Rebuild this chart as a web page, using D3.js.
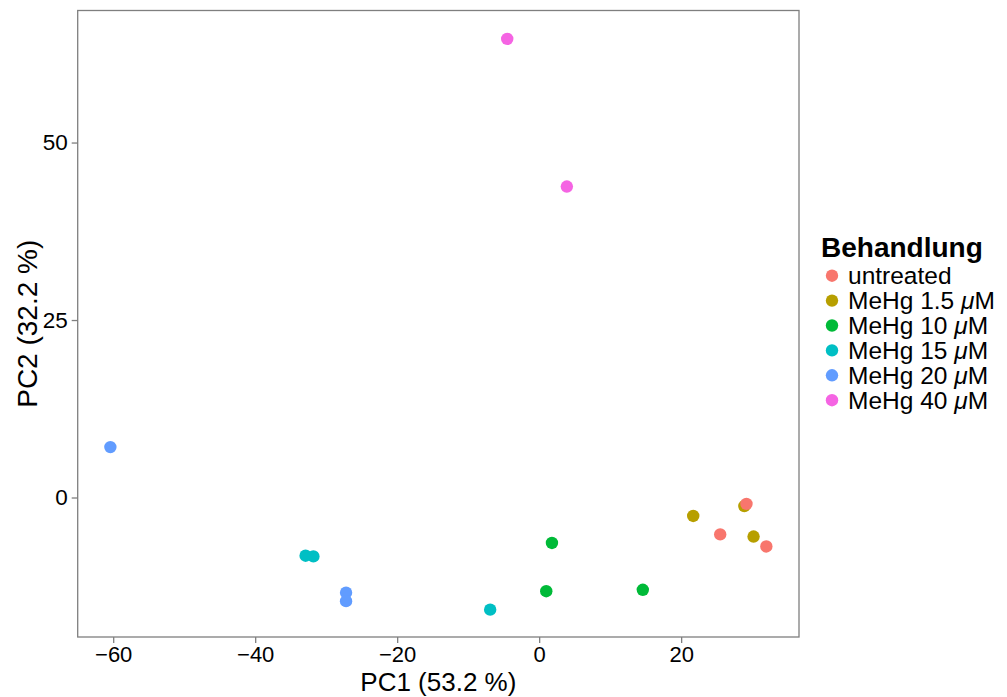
<!DOCTYPE html>
<html>
<head>
<meta charset="utf-8">
<script src="https://cdn.jsdelivr.net/npm/d3@7"></script>
<style>
  html, body { margin: 0; padding: 0; background: #fff; }
  svg text { font-family: "Liberation Sans", Arial, Helvetica, sans-serif; }
</style>
</head>
<body>
<svg id="chart" width="1007" height="697"></svg>
<script>
// ---- data ----
const groups = ["untreated", "MeHg 1.5", "MeHg 10", "MeHg 15", "MeHg 20", "MeHg 40"];
const groupColors = ["#F8766D", "#B79F00", "#00BA38", "#00BFC4", "#619CFF", "#F564E3"];
const pointGroup = ["MeHg 40", "MeHg 40", "MeHg 20", "MeHg 20", "MeHg 20",
                    "MeHg 15", "MeHg 15", "MeHg 15", "MeHg 10", "MeHg 10", "MeHg 10",
                    "MeHg 1.5", "MeHg 1.5", "MeHg 1.5", "untreated", "untreated", "untreated"];
const pc1 = [-4.5, 3.9, -60.4, -27.2, -27.2, -32.9, -31.8, -6.9, 1.8, 1.0, 14.6, 21.7, 28.9, 30.2, 25.5, 29.2, 32.0];
const pc2 = [64.6, 43.8, 7.1, -13.4, -14.6, -8.2, -8.3, -15.8, -6.4, -13.2, -13.0, -2.6, -1.2, -5.5, -5.2, -0.9, -6.9];
const xTicks = [-60, -40, -20, 0, 20];
const yTicks = [0, 25, 50];
const xTitle = "PC1 (53.2 %)";
const yTitle = "PC2 (32.2 %)";
const legendTitle = "Behandlung";

// ---- layout ----
const svg = d3.select("#chart");
const panel = { left: 77.7, right: 799, top: 10.5, bottom: 637 };
const x = d3.scaleLinear().domain([-65.0, 36.6]).range([panel.left, panel.right]);
const y = d3.scaleLinear().domain([-19.65, 68.6]).range([panel.bottom, panel.top]);
const color = d3.scaleOrdinal().domain(groups).range(groupColors);
const grey = "#7f7f7f";

// points
const pts = pc1.map((v, i) => ({ x: v, y: pc2[i], g: pointGroup[i] }));
svg.append("g").selectAll("circle").data(pts).join("circle")
  .attr("cx", d => x(d.x)).attr("cy", d => y(d.y)).attr("r", 6.2)
  .attr("fill", d => color(d.g));

// panel border
svg.append("rect")
  .attr("x", panel.left).attr("y", panel.top)
  .attr("width", panel.right - panel.left).attr("height", panel.bottom - panel.top)
  .attr("fill", "none").attr("stroke", grey).attr("stroke-width", 1.3);

// axes
const fmt = d => (d < 0 ? "\u2212" + Math.abs(d) : String(d));
const xAxis = svg.append("g").attr("transform", `translate(0,${panel.bottom})`)
  .call(d3.axisBottom(x).tickValues(xTicks).tickFormat(fmt).tickSize(6).tickPadding(4));
const yAxis = svg.append("g").attr("transform", `translate(${panel.left},0)`)
  .call(d3.axisLeft(y).tickValues(yTicks).tickFormat(fmt).tickSize(6).tickPadding(4));
[xAxis, yAxis].forEach(a => {
  a.select(".domain").remove();
  a.selectAll(".tick line").attr("stroke", grey).attr("stroke-width", 1.3);
  a.selectAll(".tick text").attr("fill", "#000").style("font-size", "22.5px")
    .style("font-family", '"Liberation Sans", Arial, sans-serif');
});
xAxis.selectAll(".tick text").attr("dy", "0.71em").attr("y", 9.5).style("font-size", "22px");

// axis titles
svg.append("text").attr("x", (panel.left + panel.right) / 2).attr("y", 690.5)
  .attr("text-anchor", "middle").style("font-size", "26px").text(xTitle);
svg.append("text")
  .attr("transform", `translate(37,${(panel.top + panel.bottom) / 2}) rotate(-90)`)
  .attr("text-anchor", "middle").style("font-size", "28px").text(yTitle);

// legend
const lg = svg.append("g");
lg.append("text").attr("x", 821).attr("y", 257).style("font-size", "28px")
  .style("font-weight", "bold").text(legendTitle);
groups.forEach((g, i) => {
  const cy = 275.7 + i * 24.9;
  lg.append("circle").attr("cx", 832).attr("cy", cy).attr("r", 6.2).attr("fill", color(g));
  const t = lg.append("text").attr("x", 848).attr("y", cy + 8.3).style("font-size", "24.5px");
  if (g === "untreated") {
    t.text(g);
  } else {
    t.append("tspan").text(g + " ");
    t.append("tspan").style("font-style", "italic").text("\u03BC");
    t.append("tspan").text("M");
  }
});
</script>
</body>
</html>
